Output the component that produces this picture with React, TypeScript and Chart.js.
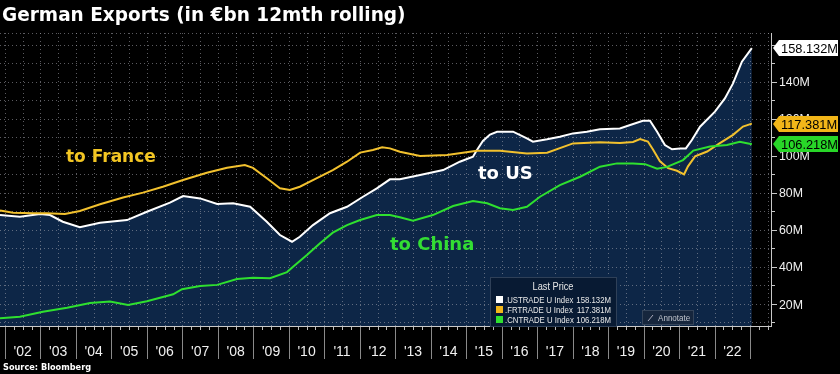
import { useEffect, useRef } from 'react';
import { Chart, registerables } from 'chart.js';
Chart.register(...registerables);

// ---- data (decimal years, € bn) ----
const usDates = [2001.86, 2002.42, 2002.99, 2003.27, 2003.63, 2004.11, 2004.68, 2005.44, 2006.0, 2006.65, 2007.02, 2007.5, 2007.98, 2008.43, 2008.91, 2009.38, 2009.75, 2010.09, 2010.31, 2010.68, 2011.16, 2011.64, 2012.09, 2012.48, 2012.85, 2013.13, 2013.7, 2014.35, 2014.82, 2015.19, 2015.28, 2015.47, 2015.67, 2015.87, 2016.32, 2016.71, 2016.88, 2017.28, 2017.64, 2018.01, 2018.4, 2018.77, 2019.33, 2019.62, 2019.98, 2020.18, 2020.38, 2020.6, 2020.8, 2021.03, 2021.19, 2021.36, 2021.59, 2022.01, 2022.29, 2022.52, 2022.77, 2023.05];
const usValues = [68.0, 67.1, 68.6, 68.0, 64.4, 61.4, 63.9, 65.3, 69.8, 74.7, 78.3, 77.0, 74.0, 74.4, 72.5, 64.4, 57.2, 53.6, 56.3, 62.6, 69.0, 72.5, 77.9, 82.4, 87.3, 87.4, 89.6, 92.3, 96.8, 99.5, 102.5, 108.0, 111.5, 113.0, 113.0, 109.4, 107.6, 108.9, 110.3, 112.1, 113.0, 114.3, 114.8, 116.6, 118.9, 118.9, 113.0, 105.8, 103.5, 104.0, 104.0, 108.5, 115.7, 123.8, 131.0, 139.1, 150.8, 158.132];

const frDates = [2001.86, 2002.23, 2002.79, 2003.18, 2003.69, 2004.11, 2004.68, 2005.33, 2005.89, 2006.45, 2007.02, 2007.69, 2008.26, 2008.76, 2008.99, 2009.38, 2009.75, 2010.03, 2010.31, 2010.68, 2011.24, 2011.64, 2012.01, 2012.37, 2012.63, 2012.85, 2013.13, 2013.7, 2014.46, 2015.3, 2015.95, 2016.71, 2017.28, 2018.01, 2018.77, 2019.33, 2019.7, 2019.9, 2020.12, 2020.26, 2020.46, 2020.69, 2020.94, 2021.14, 2021.25, 2021.45, 2021.79, 2022.15, 2022.52, 2022.8, 2023.05];
const frValues = [70.5, 69.2, 69.0, 69.0, 68.6, 70.2, 73.8, 77.5, 80.1, 83.3, 86.9, 90.8, 93.5, 95.0, 93.5, 87.9, 82.5, 81.5, 83.3, 86.9, 92.3, 96.8, 101.7, 103.1, 104.6, 104.0, 102.2, 99.9, 100.4, 102.7, 102.7, 101.3, 101.7, 106.7, 107.3, 106.9, 107.5, 109.0, 107.7, 103.5, 97.0, 93.3, 91.9, 90.0, 94.3, 99.7, 102.3, 106.8, 111.3, 115.8, 117.381];

const cnDates = [2001.86, 2002.42, 2003.07, 2003.75, 2004.4, 2004.96, 2005.47, 2006.0, 2006.74, 2006.99, 2007.5, 2007.98, 2008.54, 2008.99, 2009.47, 2009.95, 2010.12, 2010.51, 2010.88, 2011.24, 2011.64, 2012.01, 2012.48, 2012.85, 2013.13, 2013.5, 2014.06, 2014.63, 2015.19, 2015.59, 2015.95, 2016.32, 2016.71, 2017.08, 2017.64, 2018.21, 2018.77, 2019.25, 2019.7, 2020.04, 2020.38, 2020.66, 2021.11, 2021.4, 2021.87, 2022.35, 2022.71, 2023.05];
const cnValues = [12.3, 13.1, 15.8, 18.0, 20.5, 21.3, 19.5, 21.5, 25.2, 28.0, 29.7, 30.3, 33.5, 34.2, 33.9, 37.2, 40.1, 46.4, 52.8, 58.5, 62.6, 65.3, 68.0, 68.0, 66.8, 65.0, 68.0, 72.9, 75.6, 74.4, 71.7, 70.7, 72.5, 77.9, 84.2, 88.7, 94.1, 95.9, 95.9, 95.5, 93.0, 94.0, 97.7, 102.8, 105.0, 105.8, 107.6, 106.218];

const seriesNames = ['.USTRADE U Index', '.FRTRADE U Index', '.CNTRADE U Index'];
const yearStarts = [2002, 2003, 2004, 2005, 2006, 2007, 2008, 2009, 2010, 2011, 2012, 2013, 2014, 2015, 2016, 2017, 2018, 2019, 2020, 2021, 2022];
const yearLabels = ["'02", "'03", "'04", "'05", "'06", "'07", "'08", "'09", "'10", "'11", "'12", "'13", "'14", "'15", "'16", "'17", "'18", "'19", "'20", "'21", "'22"];
const yTickValues = [20, 40, 60, 80, 100, 120, 140, 160];
const yTickLabels = ['20M', '40M', '60M', '80M', '100M', '120M', '140M', '160M'];
const titleText = 'German Exports (in €bn 12mth rolling)';
const sourceText = 'Source: Bloomberg';
const annotations = [
  { text: 'to France', x: 2003.72, y: 96.4, color: '#f3c623', size: 17 },
  { text: 'to US', x: 2015.33, y: 87.5, color: '#ffffff', size: 18 },
  { text: 'to China', x: 2012.85, y: 49.2, color: '#33dd33', size: 18 },
];

const WHITE = '#ffffff';
const YELLOW = '#f2c12e';
const GREEN = '#2fe02f';
const NAVY = '#0d2647';
const BOX_COLORS = ['#ffffff', '#f2b619', '#28d628'];

function txt(ctx: CanvasRenderingContext2D, s: string, x: number, y: number, font: string, color: string, align: CanvasTextAlign = 'left', sx = 1, baseline: CanvasTextBaseline = 'alphabetic') {
  ctx.save();
  ctx.font = font;
  ctx.fillStyle = color;
  ctx.textAlign = align;
  ctx.textBaseline = baseline;
  ctx.translate(x, y);
  ctx.scale(sx, 1);
  ctx.fillText(s, 0, 0);
  ctx.restore();
}

const gridPlugin = {
  id: 'bbgGrid',
  beforeDatasetsDraw(chart: any) {
    const ctx = chart.ctx as CanvasRenderingContext2D;
    const { left, right, top, bottom } = chart.chartArea;
    const xs = chart.scales.x;
    const ys = chart.scales.y;
    ctx.save();
    ctx.strokeStyle = 'rgba(165,165,175,0.55)';
    ctx.lineWidth = 1;
    ctx.setLineDash([1, 3]);
    for (let yr = 2002; yr <= 2023.5; yr += 0.5) {
      const px = Math.round(xs.getPixelForValue(yr)) + 0.5;
      if (px < left || px > right) continue;
      ctx.beginPath();
      ctx.moveTo(px, top);
      ctx.lineTo(px, bottom);
      ctx.stroke();
    }
    for (let v = 10; v <= 160; v += 10) {
      const py = Math.round(ys.getPixelForValue(v)) + 0.5;
      ctx.beginPath();
      ctx.moveTo(left, py);
      ctx.lineTo(right, py);
      ctx.stroke();
    }
    ctx.beginPath();
    ctx.moveTo(left, top + 0.5);
    ctx.lineTo(right, top + 0.5);
    ctx.stroke();
    ctx.restore();
  },
};

const decorPlugin = {
  id: 'bbgDecor',
  afterDatasetsDraw(chart: any) {
    const ctx = chart.ctx as CanvasRenderingContext2D;
    const { left, right, top, bottom } = chart.chartArea;
    const xs = chart.scales.x;
    const ys = chart.scales.y;

    // axis lines
    ctx.save();
    ctx.strokeStyle = '#c8c8c8';
    ctx.lineWidth = 1;
    ctx.beginPath();
    ctx.moveTo(left, bottom + 0.5);
    ctx.lineTo(right + 1, bottom + 0.5);
    ctx.moveTo(right + 0.5, top);
    ctx.lineTo(right + 0.5, bottom + 1);
    ctx.stroke();

    // y ticks
    for (let v = 10; v <= 160; v += 10) {
      const py = Math.round(ys.getPixelForValue(v)) + 0.5;
      const major = v % 20 === 0;
      ctx.beginPath();
      ctx.moveTo(right + 1, py);
      ctx.lineTo(right + (major ? 6 : 4), py);
      ctx.stroke();
    }
    yTickValues.forEach((v, i) => {
      const py = ys.getPixelForValue(v);
      txt(ctx, yTickLabels[i], right + 8, py + 1, '13px "Liberation Sans"', '#f0f0f0', 'left', 0.95, 'middle');
    });

    // x quarter ticks
    ctx.strokeStyle = '#bbbbbb';
    for (let q = 2002; q <= 2023.5; q += 0.25) {
      const px = Math.round(xs.getPixelForValue(q)) + 0.5;
      if (px > right) continue;
      ctx.beginPath();
      ctx.moveTo(px, bottom + 1);
      ctx.lineTo(px, bottom + 4);
      ctx.stroke();
    }
    // year separators + labels
    ctx.strokeStyle = '#8a8a8a';
    const seps = [...yearStarts, yearStarts[yearStarts.length - 1] + 1];
    seps.forEach((yr) => {
      const px = Math.round(xs.getPixelForValue(yr)) + 0.5;
      ctx.beginPath();
      ctx.moveTo(px, bottom + 1);
      ctx.lineTo(px, bottom + 33);
      ctx.stroke();
    });
    yearStarts.forEach((yr, i) => {
      const px = xs.getPixelForValue(yr + 0.5);
      txt(ctx, yearLabels[i], px, bottom + 30, '14px "Liberation Sans"', '#f0f0f0', 'center');
    });
    ctx.restore();

    // annotations
    annotations.forEach((a) => {
      txt(ctx, a.text, xs.getPixelForValue(a.x), ys.getPixelForValue(a.y), `bold ${a.size}px "DejaVu Sans"`, a.color, 'left');
    });

    // legend box
    const lx = 490, ly = 277, lw = 126, lh = 49;
    ctx.save();
    ctx.fillStyle = '#081a33';
    ctx.strokeStyle = '#2f4058';
    ctx.lineWidth = 1;
    ctx.fillRect(lx, ly, lw, lh);
    ctx.strokeRect(lx + 0.5, ly + 0.5, lw, lh);
    txt(ctx, 'Last Price', lx + 63, ly + 13, '10px "Liberation Sans"', '#e8e8e8', 'center', 0.92);
    const lasts = [usValues[usValues.length - 1], frValues[frValues.length - 1], cnValues[cnValues.length - 1]];
    const sq = [WHITE, '#f2b619', '#2fe02f'];
    lasts.forEach((v, i) => {
      const ry = ly + 19 + i * 10;
      ctx.fillStyle = sq[i];
      ctx.fillRect(lx + 6, ry, 7, 7);
      txt(ctx, seriesNames[i], lx + 15, ry + 7, '9.5px "Liberation Sans"', '#e8e8e8', 'left', 0.82);
      txt(ctx, v.toFixed(3) + 'M', lx + 121, ry + 7, '9.5px "Liberation Sans"', '#e8e8e8', 'right', 0.82);
    });
    // annotate button
    ctx.fillStyle = '#16263d';
    ctx.strokeStyle = '#34445a';
    ctx.fillRect(642, 310, 51, 14);
    ctx.strokeRect(642.5, 310.5, 51, 14);
    ctx.strokeStyle = '#aab';
    ctx.beginPath();
    ctx.moveTo(648, 321);
    ctx.lineTo(653, 315);
    ctx.stroke();
    txt(ctx, 'Annotate', 658, 321, '9.5px "Liberation Sans"', '#c0c4cc', 'left', 0.85);
    ctx.restore();

    // last value boxes
    lasts.forEach((v, i) => {
      const yc = Math.round(ys.getPixelForValue(v));
      const x0 = right + 2;
      ctx.save();
      ctx.fillStyle = BOX_COLORS[i];
      ctx.beginPath();
      ctx.moveTo(x0, yc);
      ctx.lineTo(x0 + 6, yc - 8);
      ctx.lineTo(838, yc - 8);
      ctx.lineTo(838, yc + 8);
      ctx.lineTo(x0 + 6, yc + 8);
      ctx.closePath();
      ctx.fill();
      ctx.restore();
      txt(ctx, v.toFixed(3) + 'M', x0 + 8, yc + 1, '13.5px "Liberation Sans"', '#000000', 'left', 0.95, 'middle');
    });

    // title & source
    txt(ctx, titleText, 2, 21, 'bold 20px "DejaVu Sans"', '#ffffff', 'left', 0.925);
    txt(ctx, sourceText, 3, 370, 'bold 8.2px "DejaVu Sans"', '#ffffff', 'left');
  },
};

export default function App() {
  const ref = useRef<HTMLCanvasElement>(null);
  useEffect(() => {
    document.body.style.margin = '0';
    document.body.style.background = '#000';
    const chart = new Chart(ref.current as HTMLCanvasElement, {
      type: 'line',
      data: {
        datasets: [
          {
            label: seriesNames[2],
            data: cnDates.map((d, i) => ({ x: d, y: cnValues[i] })),
            borderColor: GREEN,
            borderWidth: 2,
            pointRadius: 0,
            fill: false,
            order: 1,
          },
          {
            label: seriesNames[1],
            data: frDates.map((d, i) => ({ x: d, y: frValues[i] })),
            borderColor: YELLOW,
            borderWidth: 2,
            pointRadius: 0,
            fill: false,
            order: 2,
          },
          {
            label: seriesNames[0],
            data: usDates.map((d, i) => ({ x: d, y: usValues[i] })),
            borderColor: WHITE,
            backgroundColor: NAVY,
            borderWidth: 2,
            pointRadius: 0,
            fill: 'start',
            order: 3,
          },
        ],
      },
      options: {
        animation: false,
        responsive: false,
        devicePixelRatio: 1,
        layout: { padding: { top: 33, left: 0, right: 0, bottom: 0 } },
        plugins: {
          legend: { display: false },
          tooltip: { enabled: false },
          title: { display: false },
          filler: { drawTime: 'beforeDatasetsDraw' },
        } as any,
        scales: {
          x: {
            type: 'linear',
            min: 2001.86,
            max: 2023.59,
            grid: { display: false },
            border: { display: false },
            ticks: { display: false },
            afterFit: (s: any) => { s.height = 48; },
          },
          y: {
            position: 'right',
            min: 8.1,
            max: 166.3,
            grid: { display: false },
            border: { display: false },
            ticks: { display: false },
            afterFit: (s: any) => { s.width = 69; },
          },
        },
      },
      plugins: [gridPlugin, decorPlugin],
    });
    return () => chart.destroy();
  }, []);
  return <canvas ref={ref} width={840} height={374} style={{ display: 'block', width: 840, height: 374, background: '#000' }} />;
}
